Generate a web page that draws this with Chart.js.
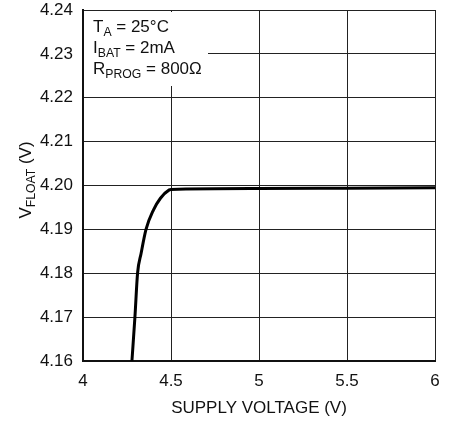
<!DOCTYPE html>
<html>
<head>
<meta charset="utf-8">
<script src="https://cdn.jsdelivr.net/npm/chart.js@4"></script>
<style>
  html, body { margin: 0; padding: 0; background: #fff; }
  #wrap { width: 454px; height: 425px; }
</style>
</head>
<body>
<div id="wrap"><canvas id="vfChart" width="454" height="425"></canvas></div>
<script>
/* data */
const supplyV = [4.278, 4.295, 4.31, 4.33, 4.358, 4.40, 4.44, 4.49, 4.50, 5.0, 5.5, 6.0];
const vFloat  = [4.160, 4.170, 4.180, 4.1845, 4.190, 4.1944, 4.1971, 4.1990, 4.1991, 4.1993, 4.1994, 4.1995];
const xTicks = [4, 4.5, 5, 5.5, 6];
const yTicks = [4.16, 4.17, 4.18, 4.19, 4.20, 4.21, 4.22, 4.23, 4.24];

const FONT = "'Liberation Sans Narrow', 'Liberation Sans', Arial, sans-serif";

// draws text runs with subscripts
function drawRuns(ctx, runs, x, y, size) {
  let cx = x;
  runs.forEach(r => {
    const sz = r.sub ? size * 0.72 : size;
    ctx.font = sz + 'px ' + FONT;
    ctx.fillText(r.t, cx, y + (r.sub ? size * 0.25 : 0));
    cx += ctx.measureText(r.t).width;
  });
  return cx - x;
}
function runsWidth(ctx, runs, size) {
  let w = 0;
  runs.forEach(r => {
    ctx.font = (r.sub ? size * 0.72 : size) + 'px ' + FONT;
    w += ctx.measureText(r.t).width;
  });
  return w;
}

const annotate = {
  id: 'annotate',
  beforeDatasetsDraw(chart) {
    const { ctx, chartArea: a } = chart;
    // white note box covering the grid
    ctx.save();
    ctx.fillStyle = '#fff';
    ctx.fillRect(a.left + 1, a.top + 2, 124, 74);
    ctx.restore();
  },
  afterDraw(chart) {
    const { ctx, chartArea: a } = chart;
    ctx.save();
    ctx.fillStyle = '#111';
    ctx.textBaseline = 'alphabetic';
    ctx.textAlign = 'left';
    const sz = 17;
    drawRuns(ctx, [{t: 'T'}, {t: 'A', sub: true}, {t: ' = 25°C'}], a.left + 10, a.top + 22, sz);
    drawRuns(ctx, [{t: 'I'}, {t: 'BAT', sub: true}, {t: ' = 2mA'}], a.left + 10, a.top + 43, sz);
    drawRuns(ctx, [{t: 'R'}, {t: 'PROG', sub: true}, {t: ' = 800Ω'}], a.left + 10, a.top + 64, sz);

    // x title
    ctx.font = sz + 'px ' + FONT;
    ctx.textAlign = 'center';
    ctx.fillText('SUPPLY VOLTAGE (V)', (a.left + a.right) / 2, 413);

    // y title, rotated
    const yRuns = [{t: 'V'}, {t: 'FLOAT', sub: true}, {t: ' (V)'}];
    const w = runsWidth(ctx, yRuns, sz);
    ctx.translate(31, 180);
    ctx.rotate(-Math.PI / 2);
    ctx.textAlign = 'left';
    drawRuns(ctx, yRuns, -w / 2, 0, sz);
    ctx.restore();
  }
};

new Chart(document.getElementById('vfChart'), {
  type: 'scatter',
  data: {
    datasets: [{
      data: supplyV.map((v, i) => ({ x: v, y: vFloat[i] })),
      showLine: true,
      borderColor: '#000',
      borderWidth: 3,
      pointRadius: 0,
      cubicInterpolationMode: 'monotone',
      clip: false
    }]
  },
  options: {
    responsive: false,
    animation: false,
    layout: { padding: { left: 0, right: 19, top: 10, bottom: 0 } },
    plugins: { legend: { display: false }, tooltip: { enabled: false } },
    scales: {
      x: {
        type: 'linear',
        min: 4, max: 6,
        afterBuildTicks: s => { s.ticks = xTicks.map(v => ({ value: v })); },
        afterFit: s => { s.height = 64; s.paddingLeft = 0; s.paddingRight = 0; },
        grid: { color: '#222', lineWidth: 1, drawTicks: false },
        border: { color: '#111', width: 2 },
        ticks: {
          padding: 10,
          color: '#111',
          font: { family: FONT, size: 17 },
          maxRotation: 0,
          callback: v => String(v)
        }
      },
      y: {
        min: 4.16, max: 4.24,
        afterBuildTicks: s => { s.ticks = yTicks.map(v => ({ value: v })); },
        afterFit: s => { s.width = 83; s.paddingTop = 0; s.paddingBottom = 0; },
        grid: { color: '#222', lineWidth: 1, drawTicks: false },
        border: { color: '#111', width: 2 },
        ticks: {
          padding: 10,
          color: '#111',
          font: { family: FONT, size: 17 },
          callback: v => v.toFixed(2)
        }
      }
    }
  },
  plugins: [annotate]
});
</script>
</body>
</html>
